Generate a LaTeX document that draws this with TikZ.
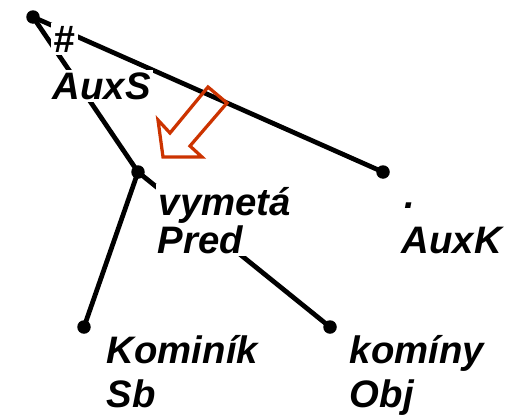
\documentclass[tikz,border=0pt]{standalone}
\usepackage{fontspec}
\setmainfont{Liberation Sans}
\definecolor{arrowred}{RGB}{204,51,0}
\begin{document}
\begin{tikzpicture}[x=0.02cm,y=-0.02cm,
  dot/.style={circle,fill=black,inner sep=0pt,minimum size=0.27cm},
  edge/.style={line width=0.095cm},
  lbl/.style={anchor=base west,fill=white,inner sep=0.05cm,
    font=\fontsize{21.8}{25}\selectfont\bfseries\itshape},
  bigarrow/.style={draw=arrowred,line width=0.065cm,line join=miter}]
\path[use as bounding box] (0,0) rectangle (517,416);
% dots
\node[dot] (root) at (33,17) {};
\node[dot] (vym) at (138,172) {};
\node[dot] (aux) at (383,172) {};
\node[dot] (kom) at (84,327) {};
\node[dot] (obj) at (330,327) {};
% edges
\draw[edge] (root.center) -- (vym.center);
\draw[edge] (root.center) -- (aux.center);
\draw[edge] (vym.center) -- (kom.center);
\draw[edge] (vym.center) -- (obj.center);
% labels
\node[lbl] (lhash) at (51,52) {\#};
\node[lbl] (lauxs) at (50,99) {AuxS};
\node[lbl] (lvym) at (156,215) {vymetá};
\node[lbl] (lpred) at (155,253) {Pred};
\node[lbl] (lper) at (402,208) {.};
\node[lbl] (lauxk) at (399,253) {AuxK};
\node[lbl] (lkom) at (104,363) {Kominík};
\node[lbl] (lsb) at (104,407) {Sb};
\node[lbl] (lkomi) at (347,363) {komíny};
\node[lbl] (lobj) at (347,407) {Obj};
% hollow arrow
\draw[bigarrow] (208,87) -- (170,133) -- (158,120) -- (163,157) -- (202,157) -- (190,146) -- (227,103) -- cycle;
\end{tikzpicture}
\end{document}
